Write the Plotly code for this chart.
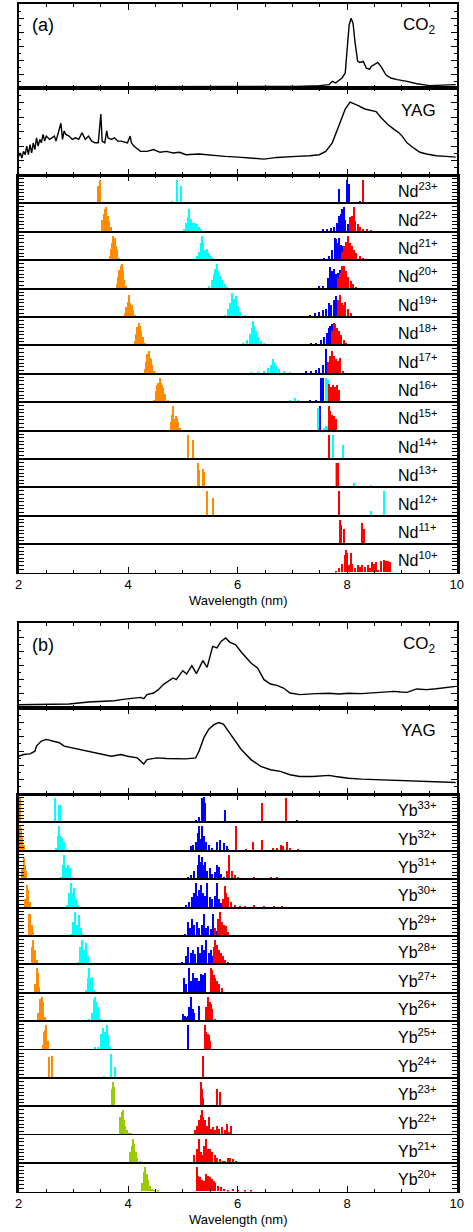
import plotly.graph_objects as go

FIG_W, FIG_H = 473, 1232
PLOT_L, PLOT_R = 15, 463.5
WL_RANGE = [2, 10]
FONT = "Liberation Sans"

COLORS = dict(orange="#ff8c00", cyan="#00ffff", blue="#0000ff", red="#ff0000", green="#99cc00")

# ---------------- continuous spectra ----------------
co2_a_wl = [2.0, 4.70, 7.074, 7.49, 7.668, 7.727, 7.787, 7.905, 7.964, 8.0, 8.036, 8.071, 8.107, 8.142,
            8.19, 8.231, 8.291, 8.35, 8.409, 8.439, 8.499, 8.558, 8.617, 8.706, 8.795, 8.914, 9.092,
            9.27, 9.507, 9.745, 9.982]
co2_a_int = [0.012, 0.012, 0.018, 0.028, 0.04, 0.08, 0.06, 0.119, 0.178, 0.47, 0.75, 0.83, 0.77, 0.55,
             0.32, 0.304, 0.316, 0.237, 0.225, 0.257, 0.277, 0.304, 0.257, 0.158, 0.119, 0.099, 0.079,
             0.051, 0.028, 0.036, 0.04]

yag_a_wl = [2.0, 2.03, 2.059, 2.089, 2.119, 2.148, 2.178, 2.208, 2.237, 2.267, 2.297, 2.326, 2.356, 2.386,
            2.415, 2.445, 2.475, 2.504, 2.564, 2.623, 2.653, 2.682, 2.742, 2.772, 2.801, 2.831, 2.861,
            2.92, 2.979, 3.039, 3.098, 3.157, 3.217, 3.276, 3.335, 3.395, 3.454, 3.501, 3.525, 3.573,
            3.608, 3.632, 3.691, 3.751, 3.81, 3.869, 3.988, 4.036, 4.059, 4.107, 4.226, 4.344, 4.463,
            4.582, 4.7, 4.819, 4.938, 5.056, 5.294, 5.531, 5.769, 6.006, 6.243, 6.481, 6.718, 6.955,
            7.074, 7.312, 7.49, 7.608, 7.727, 7.846, 7.964, 8.053, 8.113, 8.202, 8.32, 8.439, 8.528,
            8.617, 8.736, 8.855, 8.944, 9.003, 9.092, 9.211, 9.329, 9.448, 9.626, 9.804, 9.982]
yag_a_int = [0.214, 0.253, 0.195, 0.272, 0.233, 0.331, 0.233, 0.35, 0.253, 0.37, 0.292, 0.428, 0.331, 0.409,
             0.37, 0.467, 0.389, 0.447, 0.409, 0.428, 0.447, 0.389, 0.525, 0.595, 0.409, 0.506, 0.467,
             0.447, 0.409, 0.428, 0.409, 0.486, 0.409, 0.447, 0.389, 0.37, 0.37, 0.70, 0.389, 0.37,
             0.506, 0.428, 0.409, 0.428, 0.389, 0.389, 0.37, 0.447, 0.37, 0.331, 0.272, 0.272, 0.292,
             0.261, 0.272, 0.253, 0.261, 0.233, 0.241, 0.226, 0.214, 0.206, 0.195, 0.183, 0.202, 0.206,
             0.214, 0.222, 0.233, 0.272, 0.37, 0.564, 0.759, 0.837, 0.825, 0.798, 0.759, 0.739, 0.728,
             0.661, 0.584, 0.525, 0.486, 0.447, 0.37, 0.311, 0.261, 0.241, 0.222, 0.214, 0.206]

co2_b_wl = [2.0, 2.92, 3.276, 3.513, 3.751, 3.869, 3.988, 4.107, 4.226, 4.285, 4.344, 4.463, 4.552, 4.641,
            4.819, 4.878, 4.997, 5.068, 5.163, 5.246, 5.365, 5.442, 5.543, 5.62, 5.697, 5.78, 5.858,
            5.959, 6.065, 6.243, 6.362, 6.481, 6.599, 6.718, 6.837, 6.955, 7.134, 7.43, 7.668, 7.846,
            8.024, 8.261, 8.558, 8.855, 8.973, 9.092, 9.27, 9.448, 9.626, 9.804, 9.982]
co2_b_int = [0.039, 0.047, 0.071, 0.078, 0.086, 0.098, 0.11, 0.118, 0.125, 0.11, 0.157, 0.176, 0.216, 0.275,
             0.353, 0.333, 0.439, 0.40, 0.498, 0.404, 0.557, 0.478, 0.725, 0.706, 0.784, 0.824, 0.773,
             0.745, 0.659, 0.529, 0.471, 0.333, 0.282, 0.267, 0.235, 0.176, 0.157, 0.169, 0.173, 0.165,
             0.173, 0.169, 0.18, 0.196, 0.188, 0.184, 0.224, 0.216, 0.227, 0.243, 0.255]

yag_b_wl = [2.0, 2.089, 2.208, 2.297, 2.326, 2.415, 2.504, 2.623, 2.742, 2.831, 2.92, 3.009, 3.098, 3.217,
            3.335, 3.454, 3.573, 3.691, 3.869, 3.988, 4.166, 4.285, 4.344, 4.522, 4.70, 4.878, 5.056,
            5.234, 5.294, 5.383, 5.472, 5.561, 5.65, 5.739, 5.828, 5.947, 6.065, 6.243, 6.421, 6.599,
            6.777, 6.955, 7.134, 7.371, 7.668, 7.786, 8.024, 8.261, 8.558, 8.855, 9.151, 9.448, 9.745, 9.982]
yag_b_int = [0.439, 0.459, 0.467, 0.498, 0.557, 0.616, 0.635, 0.616, 0.596, 0.557, 0.545, 0.529, 0.518, 0.506,
             0.49, 0.467, 0.459, 0.439, 0.459, 0.439, 0.42, 0.349, 0.40, 0.42, 0.412, 0.408, 0.408,
             0.42, 0.498, 0.655, 0.753, 0.804, 0.831, 0.812, 0.733, 0.616, 0.518, 0.40, 0.322, 0.282,
             0.263, 0.224, 0.204, 0.204, 0.216, 0.204, 0.184, 0.173, 0.165, 0.157, 0.153, 0.145, 0.137, 0.133]

# ---------------- stick spectra: Nd (panel a) ----------------
nd_labels = ["23+", "22+", "21+", "20+", "19+", "18+", "17+", "16+", "15+", "14+", "13+", "12+", "11+", "10+"]

nd23 = dict(orange=([3.44, 3.49], [0.62, 0.82]),
            cyan=([4.79, 4.88, 4.97], [0.08, 0.82, 0.62]),
            blue=([7.85, 7.99, 8.03, 8.23], [0.5, 0.82, 0.67, 0.08]),
            red=([8.28, 9.67], [0.82, 0.03]))
nd22 = dict(orange=([3.525, 3.549, 3.573, 3.596, 3.62, 3.644, 3.68], [0.4, 0.6, 0.8, 0.85, 0.55, 0.35, 0.15]),
            cyan=([5.009, 5.056, 5.092, 5.116, 5.139, 5.175, 5.211, 5.246, 5.282, 5.318],
                  [0.1, 0.3, 0.5, 0.8, 0.45, 0.3, 0.3, 0.25, 0.15, 0.08]),
            blue=([7.549, 7.62, 7.697, 7.757, 7.816, 7.846, 7.875, 7.905, 7.935, 7.964, 8.012],
                  [0.08, 0.1, 0.12, 0.15, 0.3, 0.55, 0.6, 0.8, 0.85, 0.4, 0.25]),
            red=([8.053, 8.083, 8.113, 8.142, 8.19, 8.23, 8.29, 8.35, 8.44],
                 [0.5, 0.55, 0.85, 0.35, 0.25, 0.15, 0.1, 0.1, 0.05]))
nd21 = dict(orange=([3.656, 3.68, 3.703, 3.727, 3.751, 3.774, 3.798, 3.834], [0.15, 0.4, 0.6, 0.85, 0.8, 0.5, 0.35, 0.1]),
            cyan=([5.246, 5.282, 5.318, 5.341, 5.365, 5.40, 5.436, 5.472, 5.507, 5.543],
                  [0.15, 0.3, 0.6, 0.85, 0.6, 0.35, 0.4, 0.25, 0.15, 0.08]),
            blue=([7.579, 7.668, 7.727, 7.775, 7.798, 7.822, 7.846, 7.881, 7.917, 7.952, 7.988],
                  [0.1, 0.15, 0.35, 0.8, 0.75, 0.6, 0.8, 0.55, 0.5, 0.4, 0.3]),
            red=([7.905, 7.94, 7.976, 8.012, 8.047, 8.083, 8.119, 8.166, 8.226, 8.285, 8.356],
                 [0.3, 0.5, 0.65, 0.85, 0.6, 0.5, 0.35, 0.25, 0.15, 0.1, 0.05]))
nd20 = dict(orange=([3.786, 3.81, 3.834, 3.857, 3.881, 3.905, 3.929, 3.964], [0.15, 0.4, 0.65, 0.8, 0.85, 0.6, 0.3, 0.1]),
            cyan=([5.472, 5.519, 5.555, 5.591, 5.614, 5.638, 5.674, 5.709, 5.757, 5.804],
                  [0.1, 0.3, 0.5, 0.7, 0.85, 0.6, 0.45, 0.3, 0.15, 0.05]),
            blue=([7.478, 7.549, 7.638, 7.68, 7.715, 7.751, 7.787, 7.822, 7.858, 7.893],
                  [0.08, 0.1, 0.35, 0.75, 0.6, 0.7, 0.5, 0.55, 0.65, 0.4]),
            red=([7.834, 7.87, 7.905, 7.94, 7.976, 8.012, 8.059, 8.107, 8.154],
                 [0.35, 0.55, 0.8, 0.8, 0.6, 0.4, 0.25, 0.15, 0.05]))
nd19 = dict(orange=([3.94, 3.964, 3.988, 4.012, 4.036, 4.059, 4.083, 4.119], [0.15, 0.35, 0.55, 0.8, 0.5, 0.45, 0.25, 0.08]),
            cyan=([5.709, 5.769, 5.816, 5.852, 5.887, 5.923, 5.959, 5.994, 6.042, 6.125, 6.243],
                  [0.05, 0.1, 0.3, 0.5, 0.85, 0.65, 0.75, 0.4, 0.2, 0.1, 0.05]),
            blue=([7.312, 7.401, 7.478, 7.549, 7.608, 7.656, 7.703, 7.751, 7.787, 7.822],
                  [0.1, 0.15, 0.2, 0.25, 0.3, 0.5, 0.45, 0.6, 0.75, 0.55]),
            red=([7.822, 7.858, 7.893, 7.929, 7.964, 8.012, 8.059, 8.119],
                 [0.6, 0.8, 0.5, 0.45, 0.55, 0.3, 0.15, 0.05]))
nd18 = dict(orange=([4.119, 4.142, 4.166, 4.19, 4.214, 4.237, 4.261, 4.297], [0.15, 0.4, 0.65, 0.8, 0.7, 0.5, 0.3, 0.08]),
            cyan=([6.006, 6.095, 6.172, 6.22, 6.255, 6.279, 6.303, 6.338, 6.374, 6.421, 6.481, 6.57],
                  [0.05, 0.1, 0.2, 0.4, 0.6, 0.85, 0.7, 0.5, 0.3, 0.15, 0.1, 0.05]),
            blue=([7.341, 7.43, 7.519, 7.579, 7.62, 7.656, 7.691, 7.727],
                  [0.1, 0.1, 0.2, 0.3, 0.45, 0.6, 0.7, 0.75]),
            red=([7.715, 7.751, 7.775, 7.81, 7.846, 7.881, 7.929, 7.976],
                 [0.5, 0.8, 0.75, 0.6, 0.5, 0.35, 0.2, 0.08]))
nd17 = dict(orange=([4.297, 4.32, 4.344, 4.368, 4.392, 4.415, 4.439, 4.475], [0.15, 0.4, 0.7, 0.8, 0.55, 0.5, 0.3, 0.08]),
            cyan=([6.243, 6.362, 6.481, 6.552, 6.599, 6.635, 6.659, 6.694, 6.748, 6.837, 6.955],
                  [0.05, 0.05, 0.1, 0.2, 0.3, 0.5, 0.4, 0.25, 0.15, 0.1, 0.05]),
            blue=([7.252, 7.341, 7.418, 7.49, 7.549, 7.608],
                  [0.1, 0.1, 0.12, 0.2, 0.3, 0.85]),
            red=([7.644, 7.68, 7.715, 7.751, 7.787, 7.822, 7.87, 7.917],
                 [0.4, 0.6, 0.8, 0.6, 0.5, 0.45, 0.55, 0.1]))
nd16 = dict(orange=([4.463, 4.499, 4.522, 4.546, 4.57, 4.593, 4.617, 4.641, 4.677, 4.724],
                    [0.1, 0.4, 0.6, 0.7, 0.85, 0.7, 0.6, 0.5, 0.3, 0.08]),
            cyan=([6.896, 6.955, 7.045, 7.104, 7.163, 7.282, 7.43, 7.608, 7.638],
                  [0.05, 0.08, 0.15, 0.1, 0.05, 0.05, 0.1, 0.85, 0.8]),
            blue=([7.312, 7.43, 7.519, 7.549], [0.1, 0.1, 0.85, 0.85]),
            red=([7.668, 7.703, 7.739, 7.775, 7.81, 7.846, 7.905, 7.964],
                 [0.65, 0.55, 0.6, 0.55, 0.6, 0.45, 0.05, 0.03]))
nd15 = dict(orange=([4.772, 4.795, 4.819, 4.843, 4.866, 4.89, 4.914, 4.938], [0.3, 0.55, 0.85, 0.4, 0.5, 0.45, 0.3, 0.1]),
            cyan=([7.46, 7.49, 7.579, 7.608, 7.638], [0.8, 0.8, 0.1, 0.15, 0.15]),
            blue=([7.501], [0.85]),
            red=([7.656, 7.691, 7.715, 7.739, 7.763, 7.787], [0.85, 0.7, 0.55, 0.5, 0.5, 0.4]))
nd14 = dict(orange=([5.086, 5.175], [0.85, 0.7]),
            cyan=([7.739, 7.923], [0.85, 0.5]),
            red=([7.656], [0.85]))
nd13 = dict(orange=([5.264, 5.282, 5.365, 5.383], [0.85, 0.6, 0.65, 0.55]),
            cyan=([7.787, 7.905, 8.113, 8.439], [0.85, 0.05, 0.15, 0.08]),
            red=([7.81, 7.828], [0.85, 0.85]))
nd12 = dict(orange=([5.436, 5.537], [0.85, 0.6]),
            cyan=([8.427, 8.665], [0.15, 0.85]),
            red=([7.846], [0.85]))
nd11 = dict(red=([7.858, 7.875, 7.935, 8.261, 8.309], [0.85, 0.7, 0.55, 0.75, 0.55]))
nd10 = dict(red=([7.787, 7.846, 7.905, 7.952, 7.976, 8.0, 8.036, 8.059, 8.083, 8.131, 8.202, 8.232, 8.273,
                  8.32, 8.368, 8.409, 8.451, 8.487, 8.528, 8.558, 8.617, 8.677, 8.706, 8.748, 8.783],
                 [0.05, 0.15, 0.3, 0.6, 0.8, 0.7, 0.25, 0.7, 0.3, 0.15, 0.25, 0.2, 0.25,
                  0.2, 0.25, 0.15, 0.35, 0.3, 0.35, 0.1, 0.4, 0.45, 0.4, 0.4, 0.35]))
nd_rows = [nd23, nd22, nd21, nd20, nd19, nd18, nd17, nd16, nd15, nd14, nd13, nd12, nd11, nd10]

# ---------------- stick spectra: Yb (panel b) ----------------
yb_labels = ["33+", "32+", "31+", "30+", "29+", "28+", "27+", "26+", "25+", "24+", "23+", "22+", "21+", "20+"]

yb33 = dict(orange=([2.012], [0.85]),
            cyan=([2.593, 2.653, 2.73, 2.754], [0.05, 0.85, 0.6, 0.6]),
            blue=([5.234, 5.294, 5.353, 5.377, 5.401, 5.769, 7.074, 7.282], [0.1, 0.2, 0.85, 0.9, 0.7, 0.45, 0.1, 0.03]),
            red=([6.433, 6.872, 6.926], [0.7, 0.85, 0.03]))
yb32 = dict(orange=([2.018, 2.042, 2.065, 2.089], [0.85, 0.8, 0.5, 0.2]),
            cyan=([2.682, 2.718, 2.742, 2.766, 2.789, 2.825, 2.861], [0.1, 0.5, 0.85, 0.5, 0.45, 0.3, 0.05]),
            blue=([5.145, 5.187, 5.234, 5.27, 5.294, 5.323, 5.353, 5.389, 5.424, 5.472, 5.531, 5.62, 5.68,
                   5.739, 5.798, 5.828],
                  [0.15, 0.2, 0.3, 0.6, 0.85, 0.4, 0.85, 0.5, 0.3, 0.2, 0.1, 0.3, 0.35, 0.25, 0.15, 0.05]),
            red=([5.958, 6.154, 6.285, 6.439, 6.647, 6.718, 6.789, 6.825, 6.896, 6.955, 7.104],
                 [0.85, 0.05, 0.3, 0.35, 0.1, 0.1, 0.2, 0.15, 0.3, 0.1, 0.05]))
yb31 = dict(orange=([2.059, 2.089, 2.113, 2.136], [0.4, 0.75, 0.5, 0.3]),
            cyan=([2.772, 2.801, 2.831, 2.861, 2.896, 2.932, 2.967], [0.1, 0.5, 0.85, 0.4, 0.5, 0.4, 0.1]),
            blue=([5.086, 5.145, 5.205, 5.264, 5.294, 5.318, 5.341, 5.365, 5.401, 5.442, 5.484, 5.531, 5.579,
                   5.626, 5.662, 5.697, 5.745, 5.828],
                  [0.1, 0.15, 0.3, 0.5, 0.85, 0.6, 0.8, 0.5, 0.6, 0.3, 0.4, 0.2, 0.25, 0.5, 0.45, 0.2, 0.1, 0.05]),
            red=([5.798, 5.84, 5.887, 5.947, 6.006, 6.095, 6.184, 6.303, 6.421, 6.51, 6.599, 6.659, 6.718,
                  6.807, 6.896, 6.955],
                 [0.3, 0.85, 0.3, 0.15, 0.1, 0.05, 0.05, 0.08, 0.05, 0.05, 0.1, 0.05, 0.08, 0.05, 0.05, 0.05]))
yb30 = dict(orange=([2.119, 2.148, 2.172, 2.196], [0.3, 0.8, 0.6, 0.2]),
            cyan=([2.872, 2.908, 2.944, 2.979, 3.015, 3.05, 3.086], [0.1, 0.5, 0.85, 0.5, 0.7, 0.3, 0.1]),
            blue=([5.056, 5.116, 5.163, 5.205, 5.234, 5.27, 5.294, 5.329, 5.365, 5.401, 5.436, 5.484, 5.531,
                   5.579, 5.614, 5.65, 5.697],
                  [0.1, 0.2, 0.35, 0.5, 0.85, 0.4, 0.6, 0.8, 0.5, 0.4, 0.85, 0.35, 0.3, 0.4, 0.85, 0.3, 0.15]),
            red=([5.721, 5.757, 5.792, 5.828, 5.875, 5.947, 6.036, 6.125, 6.303, 6.481, 6.659, 6.807],
                 [0.3, 0.75, 0.5, 0.35, 0.2, 0.1, 0.05, 0.05, 0.08, 0.05, 0.05, 0.03]))
yb29 = dict(orange=([2.178, 2.208, 2.237, 2.255], [0.8, 0.8, 0.4, 0.15]),
            cyan=([2.95, 2.991, 3.027, 3.062, 3.098, 3.134, 3.169], [0.1, 0.5, 0.85, 0.4, 0.75, 0.3, 0.1]),
            blue=([5.027, 5.086, 5.128, 5.163, 5.205, 5.246, 5.294, 5.341, 5.383, 5.412, 5.46, 5.507, 5.543,
                   5.591, 5.626],
                  [0.1, 0.5, 0.3, 0.6, 0.4, 0.5, 0.3, 0.4, 0.8, 0.3, 0.35, 0.25, 0.8, 0.3, 0.2]),
            red=([5.591, 5.638, 5.674, 5.709, 5.745, 5.78, 5.828, 5.887, 6.006, 6.154],
                 [0.3, 0.6, 0.85, 0.5, 0.4, 0.35, 0.15, 0.05, 0.05, 0.05]))
yb28 = dict(orange=([2.237, 2.267, 2.297, 2.326], [0.6, 0.85, 0.5, 0.15]),
            cyan=([3.086, 3.122, 3.157, 3.193, 3.229, 3.264, 3.3], [0.1, 0.6, 0.85, 0.5, 0.75, 0.3, 0.05]),
            blue=([4.985, 5.045, 5.092, 5.139, 5.175, 5.223, 5.264, 5.306, 5.353, 5.389, 5.424, 5.472, 5.507, 5.543],
                  [0.1, 0.3, 0.6, 0.4, 0.5, 0.35, 0.6, 0.4, 0.7, 0.5, 0.85, 0.4, 0.5, 0.3]),
            red=([5.561, 5.591, 5.62, 5.65, 5.686, 5.721, 5.769, 5.828, 5.887],
                 [0.6, 0.85, 0.7, 0.5, 0.4, 0.3, 0.15, 0.1, 0.05]))
yb27 = dict(orange=([2.297, 2.326, 2.35, 2.374], [0.3, 0.85, 0.7, 0.2]),
            cyan=([3.229, 3.264, 3.288, 3.312, 3.335, 3.371], [0.1, 0.5, 0.85, 0.5, 0.55, 0.1]),
            blue=([5.009, 5.056, 5.104, 5.145, 5.175, 5.211, 5.246, 5.282, 5.323, 5.365, 5.401],
                  [0.5, 0.3, 0.85, 0.4, 0.7, 0.5, 0.5, 0.4, 0.65, 0.6, 0.7]),
            red=([5.501, 5.531, 5.561, 5.591, 5.626, 5.662, 5.709], [0.85, 0.8, 0.6, 0.5, 0.4, 0.3, 0.15]))
yb26 = dict(orange=([2.356, 2.386, 2.415, 2.445, 2.475], [0.3, 0.8, 0.85, 0.7, 0.15]),
            cyan=([3.288, 3.335, 3.371, 3.395, 3.418, 3.442, 3.466, 3.501], [0.1, 0.3, 0.8, 0.85, 0.7, 0.5, 0.3, 0.1]),
            blue=([4.997, 5.027, 5.056, 5.086, 5.116, 5.151, 5.175, 5.205, 5.294],
                  [0.25, 0.2, 0.15, 0.2, 0.5, 0.85, 0.45, 0.3, 0.55]),
            red=([5.424, 5.454, 5.484, 5.507, 5.531, 5.591, 5.65], [0.5, 0.85, 0.7, 0.6, 0.45, 0.1, 0.05]))
yb25 = dict(orange=([2.433, 2.457, 2.481, 2.504, 2.528], [0.15, 0.6, 0.7, 0.85, 0.3]),
            cyan=([3.395, 3.454, 3.501, 3.543, 3.572, 3.602, 3.632, 3.662], [0.1, 0.1, 0.55, 0.75, 0.6, 0.85, 0.5, 0.1]),
            blue=([5.098], [0.85]),
            red=([5.401, 5.424, 5.448, 5.472, 5.496], [0.85, 0.6, 0.55, 0.5, 0.3]))
yb24 = dict(orange=([2.546, 2.605], [0.75, 0.8]),
            cyan=([3.549, 3.674, 3.763], [0.1, 0.85, 0.4]),
            red=([5.365], [0.8]))
yb23 = dict(green=([3.697, 3.715, 3.733], [0.6, 0.85, 0.7]),
            red=([5.323, 5.341, 5.359, 5.614, 5.668], [0.85, 0.6, 0.3, 0.6, 0.5]))
yb22 = dict(green=([3.852, 3.876, 3.893, 3.917, 3.941, 3.976, 4.018, 4.047], [0.6, 0.8, 0.85, 0.5, 0.3, 0.15, 0.05, 0.03]),
            red=([5.211, 5.246, 5.282, 5.318, 5.341, 5.365, 5.401, 5.436, 5.472, 5.507, 5.543, 5.579, 5.62,
                  5.662, 5.709, 5.757, 5.804, 5.84, 5.875],
                 [0.15, 0.3, 0.5, 0.7, 0.85, 0.6, 0.5, 0.3, 0.6, 0.2, 0.25, 0.15, 0.3, 0.2, 0.25, 0.15, 0.35, 0.1, 0.3]))
yb21 = dict(green=([4.036, 4.059, 4.083, 4.107, 4.137, 4.166, 4.214, 4.273], [0.4, 0.6, 0.85, 0.7, 0.4, 0.2, 0.1, 0.05]),
            red=([5.205, 5.246, 5.282, 5.318, 5.353, 5.389, 5.424, 5.46, 5.496, 5.531, 5.579, 5.626, 5.674,
                  5.721, 5.769, 5.816, 5.864, 5.911, 5.958, 6.006],
                 [0.3, 0.5, 0.85, 0.4, 0.3, 0.6, 0.85, 0.5, 0.5, 0.4, 0.3, 0.2, 0.15, 0.1, 0.1, 0.2, 0.2, 0.15, 0.1, 0.05]))
yb20 = dict(green=([4.255, 4.285, 4.309, 4.332, 4.356, 4.392, 4.433, 4.475, 4.534], [0.3, 0.7, 0.85, 0.6, 0.4, 0.2, 0.1, 0.05, 0.03]),
            red=([5.246, 5.276, 5.306, 5.341, 5.377, 5.412, 5.448, 5.484, 5.519, 5.555, 5.591, 5.638, 5.686,
                  5.745, 5.828, 5.917, 6.006, 6.125, 6.243],
                 [0.85, 0.55, 0.5, 0.4, 0.35, 0.6, 0.55, 0.5, 0.45, 0.35, 0.3, 0.2, 0.15, 0.1, 0.05, 0.08, 0.05, 0.03, 0.02]))
yb_rows = [yb33, yb32, yb31, yb30, yb29, yb28, yb27, yb26, yb25, yb24, yb23, yb22, yb21, yb20]

# ---------------- figure construction ----------------
fig = go.Figure()
layout = {}
annotations = []
counter = [0]

def py(px):
    return 1 - px / FIG_H

def new_axes(top, bot, xstyle, ystyle, xlw=1.5):
    counter[0] += 1
    k = counter[0]
    suf = "" if k == 1 else str(k)
    layout["xaxis" + suf] = dict(domain=[PLOT_L / FIG_W, PLOT_R / FIG_W], range=WL_RANGE, anchor="y" + suf,
                                 showgrid=False, zeroline=False, showline=True, linecolor="black",
                                 linewidth=xlw, fixedrange=True, ticklabeloverflow="allow", **xstyle)
    layout["yaxis" + suf] = dict(domain=[py(bot), py(top)], range=[0, 1], anchor="x" + suf,
                                 showgrid=False, zeroline=False, showline=True, linecolor="black",
                                 fixedrange=True, **ystyle)
    return "x" + suf, "y" + suf

X_MINOR = dict(dtick=0.5, ticks="inside", ticklen=3, tickcolor="black", showgrid=False)
x_spec = dict(ticks="inside", mirror="ticks", ticklen=6, tickcolor="black", tick0=2, dtick=2,
              showticklabels=False, minor=X_MINOR)
y_spec = dict(ticks="inside", mirror="ticks", ticklen=6, tickcolor="black", tick0=0, dtick=1 / 6,
              showticklabels=False, linewidth=1.5,
              minor=dict(dtick=1 / 12, ticks="inside", ticklen=3, tickcolor="black", showgrid=False))
y_stack = dict(ticks="inside", mirror="ticks", ticklen=5, tickwidth=1.3, tickcolor="black", tick0=0,
               dtick=0.125, showticklabels=False, linewidth=3)

def spectrum(top, bot, wl, val, label):
    xr, yr = new_axes(top, bot, x_spec, y_spec)
    fig.add_trace(go.Scatter(x=wl, y=val, mode="lines", line=dict(color="black", width=1.4),
                             xaxis=xr, yaxis=yr, showlegend=False, hoverinfo="skip"))
    annotations.append(dict(text=label, x=444 / FIG_W, y=py(top + 22), xref="paper", yref="paper",
                            xanchor="right", yanchor="middle", showarrow=False,
                            font=dict(family=FONT, size=17, color="black")))

def stack(top, rows, element, labels):
    row_h = 28.4
    n = len(rows)
    for i, (row, lab) in enumerate(zip(rows, labels)):
        t = top + i * row_h
        b = t + row_h
        if i == 0:
            xs = dict(side="top", ticks="inside", ticklen=6, tickcolor="black", tick0=2, dtick=2,
                      mirror=True, showticklabels=False, minor=X_MINOR)
        elif i == n - 1:
            xs = dict(side="bottom", ticks="inside", ticklen=6, tickcolor="black", tick0=2, dtick=2,
                      mirror=True, showticklabels=True, minor=X_MINOR,
                      tickfont=dict(family=FONT, size=13, color="black"))
        else:
            xs = dict(ticks="", mirror=True, showticklabels=False)
        xr, yr = new_axes(t, b, xs, y_stack, xlw=1.1)
        for cname in ["orange", "green", "cyan", "blue", "red"]:
            if cname in row:
                wl, h = row[cname]
                fig.add_trace(go.Bar(x=wl, y=h, width=0.024, marker=dict(color=COLORS[cname], line=dict(width=0)),
                                     xaxis=xr, yaxis=yr, showlegend=False, hoverinfo="skip"))
        annotations.append(dict(text=f"{element}<sup>{lab}</sup>", x=445 / FIG_W, y=py(t + row_h / 2 + 1),
                                xref="paper", yref="paper", xanchor="right", yanchor="middle",
                                showarrow=False, font=dict(family=FONT, size=16, color="black")))
    return top + n * row_h

# panel (a)
spectrum(4, 88, co2_a_wl, co2_a_int, "CO<sub>2</sub>")
spectrum(88, 175, yag_a_wl, yag_a_int, "YAG")
bot_a = stack(175, nd_rows, "Nd", nd_labels)
# panel (b)
spectrum(623, 708, co2_b_wl, co2_b_int, "CO<sub>2</sub>")
spectrum(708, 794, yag_b_wl, yag_b_int, "YAG")
bot_b = stack(794, yb_rows, "Yb", yb_labels)

for lab, ypx in [("(a)", 25), ("(b)", 645)]:
    annotations.append(dict(text=lab, x=27 / FIG_W, y=py(ypx), xref="paper", yref="paper",
                            xanchor="left", yanchor="middle", showarrow=False,
                            font=dict(family=FONT, size=18, color="black")))
for ypx in [bot_a + 28, bot_b + 28]:
    annotations.append(dict(text="Wavelength (nm)", x=240 / FIG_W, y=py(ypx), xref="paper", yref="paper",
                            xanchor="center", yanchor="middle", showarrow=False,
                            font=dict(family=FONT, size=13, color="black")))

fig.update_layout(width=FIG_W, height=FIG_H, margin=dict(l=0, r=0, t=0, b=0),
                  paper_bgcolor="white", plot_bgcolor="white", barmode="overlay",
                  bargap=0, showlegend=False, annotations=annotations, **layout)
fig.write_html("out.html", config={"displayModeBar": False},
               post_script="document.body.style.margin='0px';")
